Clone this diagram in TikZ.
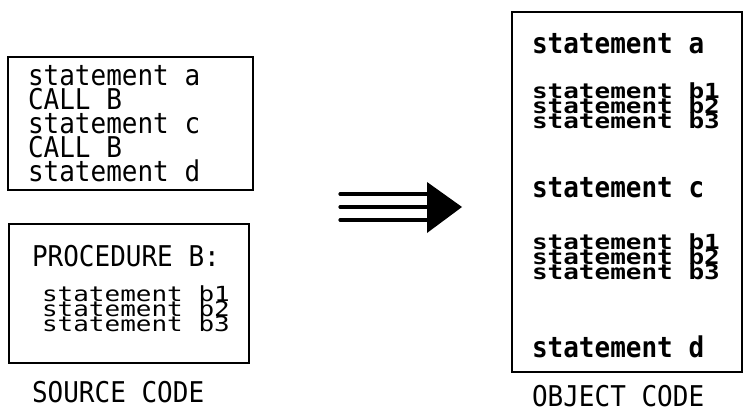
\documentclass[tikz,border=0pt]{standalone}
\usepackage{fontspec}
\setmonofont{DejaVu Sans Mono}
\newcommand{\tl}[1]{\fontsize{26}{26}\ttfamily\scalebox{1}[1.1]{#1}}
\newcommand{\tb}[1]{\fontsize{26}{26}\ttfamily\bfseries\scalebox{1}[1.1]{#1}}
\newcommand{\tc}[1]{\fontsize{26}{26}\ttfamily\scalebox{1}[0.8]{#1}}
\newcommand{\tcb}[1]{\fontsize{26}{26}\ttfamily\bfseries\scalebox{1}[0.8]{#1}}
\begin{document}
\begin{tikzpicture}[x=1pt,y=-1pt,
  box/.style={draw,line width=2pt},
  txt/.style={anchor=base west,inner sep=0pt,outer sep=0pt},
  bar/.style={line width=3.2pt,line cap=round}]
\useasboundingbox (0,0) rectangle (744,414);
% boxes
\draw[box] (8,57) rectangle (253,190);
\draw[box] (9,224) rectangle (249,363);
\draw[box] (512,12) rectangle (742,372);
% left box 1
\node[txt] (s1) at (28,86) {\tl{statement a}};
\node[txt] (s2) at (28,110) {\tl{CALL B}};
\node[txt] (s3) at (28,134) {\tl{statement c}};
\node[txt] (s4) at (28,158) {\tl{CALL B}};
\node[txt] (s5) at (28,182) {\tl{statement d}};
% left box 2
\node[txt] (p0) at (32,266) {\tl{PROCEDURE B:}};
\node[txt] (p1) at (42,301) {\tc{statement b1}};
\node[txt] (p2) at (42,316) {\tc{statement b2}};
\node[txt] (p3) at (42,331) {\tc{statement b3}};
\node[txt] (src) at (32,402) {\tl{SOURCE CODE}};
% right box
\node[txt] (o1) at (532,54) {\tb{statement a}};
\node[txt] (o2) at (532,99) {\tcb{statement b1}};
\node[txt] (o3) at (532,114) {\tcb{statement b2}};
\node[txt] (o4) at (532,129) {\tcb{statement b3}};
\node[txt] (o5) at (532,197) {\tb{statement c}};
\node[txt] (o6) at (532,249) {\tcb{statement b1}};
\node[txt] (o7) at (532,264) {\tcb{statement b2}};
\node[txt] (o8) at (532,279) {\tcb{statement b3}};
\node[txt] (o9) at (532,357) {\tb{statement d}};
\node[txt] (obj) at (532,406) {\tl{OBJECT CODE}};
% arrow
\coordinate (a1) at (340,194); \coordinate (b1) at (428,194);
\coordinate (a2) at (340,207); \coordinate (b2) at (428,207);
\coordinate (a3) at (340,220); \coordinate (b3) at (428,220);
\draw[bar] (a1) -- (b1);
\draw[bar] (a2) -- (b2);
\draw[bar] (a3) -- (b3);
\coordinate (t1) at (427,182); \coordinate (tip) at (462,207); \coordinate (t2) at (427,233);
\fill[line join=round] (t1) -- (tip) -- (t2) -- cycle;
\end{tikzpicture}
\end{document}
